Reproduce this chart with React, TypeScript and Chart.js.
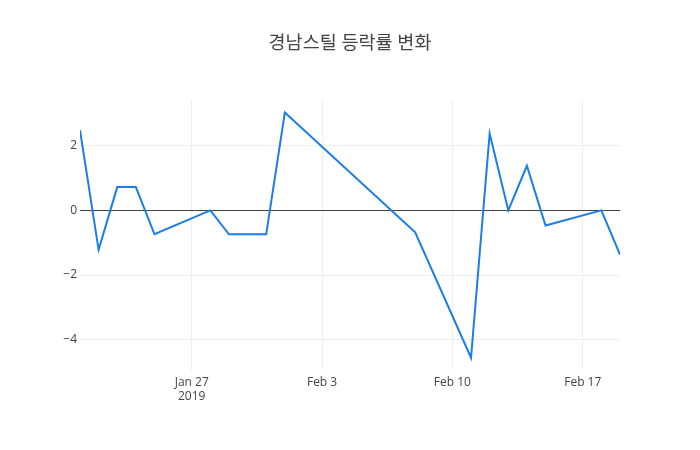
import React, { useEffect, useRef } from "react";
import { Chart, registerables } from "chart.js";

Chart.register(...registerables);

const TITLE = "경남스틸 등락률 변화";
const dates = [
  "2019-01-21", "2019-01-22", "2019-01-23", "2019-01-24", "2019-01-25",
  "2019-01-28", "2019-01-29", "2019-01-30", "2019-01-31", "2019-02-01",
  "2019-02-08", "2019-02-11", "2019-02-12", "2019-02-13", "2019-02-14",
  "2019-02-15", "2019-02-18", "2019-02-19",
];
const changes = [
  2.48, -1.22, 0.72, 0.72, -0.74,
  0.0, -0.74, -0.74, -0.74, 3.03,
  -0.68, -4.56, 2.38, 0.0, 1.38,
  -0.47, 0.0, -1.37,
];
const xTickDates = ["2019-01-27", "2019-02-03", "2019-02-10", "2019-02-17"];
const xTickLabels: (string | string[])[] = [["Jan 27", "2019"], "Feb 3", "Feb 10", "Feb 17"];
const yTicks = [-4, -2, 0, 2];
const yMin = -4.94;
const yMax = 3.41;

const DAY = 86400000;
const toDay = (s: string) => {
  const [y, m, d] = s.split("-").map(Number);
  return Date.UTC(y, m - 1, d) / DAY;
};

const FONT = '"Open Sans", "Noto Sans CJK KR", verdana, arial, sans-serif';

export default function App() {
  const ref = useRef<HTMLCanvasElement | null>(null);
  useEffect(() => {
    document.body.style.margin = "0";
    const canvas = ref.current!;
    const points = dates.map((d, i) => ({ x: toDay(d), y: changes[i] }));
    const tickDays = xTickDates.map(toDay);
    const chart = new Chart(canvas, {
      type: "line",
      data: {
        datasets: [
          {
            data: points,
            borderColor: "#1a7ee6",
            borderWidth: 2,
            pointRadius: 0,
            tension: 0,
            fill: false,
            yAxisID: "y",
          },
        ],
      },
      options: {
        animation: false,
        responsive: false,
        maintainAspectRatio: false,
        layout: { padding: 0 },
        plugins: {
          legend: { display: false },
          tooltip: { enabled: false },
          title: {
            display: true,
            text: TITLE,
            color: "#444",
            font: { family: FONT, size: 18.5, weight: "normal", lineHeight: 1.2 },
            padding: { top: 33, bottom: 45 },
          },
        },
        scales: {
          x: {
            type: "linear",
            min: toDay(dates[0]),
            max: toDay(dates[dates.length - 1]),
            afterBuildTicks: (scale: any) => {
              scale.ticks = tickDays.map((v) => ({ value: v }));
            },
            afterFit: (scale: any) => {
              scale.height = 80;
            },
            ticks: {
              autoSkip: false,
              maxRotation: 0,
              color: "#444",
              padding: 5,
              font: { family: FONT, size: 12 },
              callback: (v: any) => {
                const i = tickDays.indexOf(Number(v));
                return i >= 0 ? xTickLabels[i] : "";
              },
            },
            grid: { color: "#eee", lineWidth: 1, drawTicks: false },
            border: { display: false },
          },
          y: {
            type: "linear",
            position: "left",
            min: yMin,
            max: yMax,
            afterBuildTicks: (scale: any) => {
              scale.ticks = yTicks.map((v) => ({ value: v }));
            },
            afterFit: (scale: any) => {
              scale.width = 80;
            },
            ticks: {
              color: "#444",
              padding: 3,
              font: { family: FONT, size: 12 },
              callback: (v: any) => {
                const n = Number(v);
                return n < 0 ? "\u2212" + Math.abs(n) : String(n);
              },
            },
            grid: {
              color: (ctx: any) => (ctx.tick && ctx.tick.value === 0 ? "#444" : "#eee"),
              lineWidth: 1,
              drawTicks: false,
            },
            border: { display: false },
          },
          yRight: {
            type: "linear",
            position: "right",
            min: yMin,
            max: yMax,
            afterFit: (scale: any) => {
              scale.width = 80;
            },
            ticks: { display: false },
            grid: { display: false, drawOnChartArea: false },
            border: { display: false },
          },
        },
      },
    });
    return () => chart.destroy();
  }, []);
  return (
    <div style={{ width: 700, height: 450, background: "#fff" }}>
      <canvas ref={ref} width={700} height={450} />
    </div>
  );
}
